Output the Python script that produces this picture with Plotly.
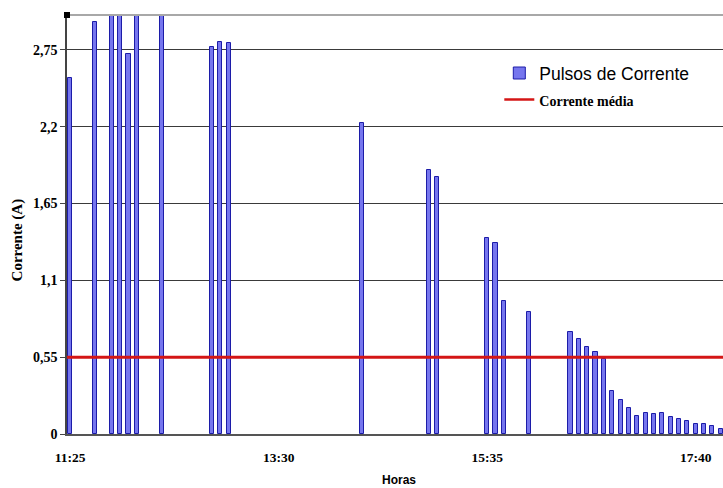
import plotly.graph_objects as go

# --- data ---
horas = ["11:25", "11:40", "11:50", "11:55", "12:00", "12:05", "12:20",
         "12:50", "12:55", "13:00", "14:20", "15:00", "15:05", "15:35",
         "15:40", "15:45", "16:00", "16:25", "16:30", "16:35", "16:40",
         "16:45", "16:50", "16:55", "17:00", "17:05", "17:10", "17:15",
         "17:20", "17:25", "17:30", "17:35", "17:40", "17:45", "17:50",
         "17:55"]
pulsos = [2.55, 2.95, 3.0, 3.0, 2.72, 3.0, 3.0,
          2.77, 2.81, 2.80, 2.23, 1.89, 1.84, 1.40,
          1.37, 0.95, 0.875, 0.73, 0.68, 0.62, 0.59,
          0.535, 0.305, 0.24, 0.185, 0.132, 0.148, 0.141,
          0.151, 0.122, 0.105, 0.095, 0.07, 0.072, 0.06,
          0.034]
corrente_media = 0.55
y_ticks = [0, 0.55, 1.1, 1.65, 2.2, 2.75]
y_ticklabels = ["0", "0,55", "1,1", "1,65", "2,2", "2,75"]
x_ticklabels = ["11:25", "13:30", "15:35", "17:40"]

day = "2000-01-01 "
xs = [day + h + ":00" for h in horas]
x_tickvals = [day + h + ":00" for h in x_ticklabels]

serif = "Liberation Serif, Times New Roman, serif"
sans = "Liberation Sans, Arial, sans-serif"

fig = go.Figure()
fig.add_trace(go.Bar(
    x=xs, y=pulsos,
    width=2.5 * 60 * 1000,
    marker=dict(color="#7676ee", line=dict(color="#1c1ca8", width=1)),
    name="<span style='font-family:Liberation Sans, Arial, sans-serif;font-size:17.5px'>Pulsos de Corrente</span>",
))
fig.add_hline(y=corrente_media, line=dict(color="#d41616", width=3), layer="above")
fig.add_trace(go.Scatter(
    x=[None], y=[None], mode="lines",
    line=dict(color="#d41616", width=2.5),
    name="<span style='font-family:Liberation Serif, Times New Roman, serif;font-size:14px;font-weight:bold'>Corrente média</span>",
))

# top border
fig.add_shape(type="line", xref="paper", yref="paper", x0=0, x1=1, y0=1, y1=1,
              line=dict(color="#a8a8a8", width=2))
# small handle at top-left
fig.add_shape(type="rect", xref="paper", yref="paper", xsizemode="pixel", ysizemode="pixel",
              xanchor=0, yanchor=1, x0=-3, x1=3, y0=-3, y1=3,
              fillcolor="black", line=dict(width=0))

fig.update_layout(
    width=723, height=488,
    margin=dict(l=67, r=0, t=15, b=54),
    plot_bgcolor="white", paper_bgcolor="white",
    showlegend=True,
    legend=dict(x=0.659, y=0.905, xanchor="left", yanchor="top",
                bgcolor="rgba(0,0,0,0)", font=dict(size=18, color="black"),
                traceorder="normal", tracegroupgap=0),
    bargap=0,
)
fig.update_xaxes(
    type="date",
    range=[day + "11:23:06", day + "17:56:24"],
    tickvals=x_tickvals, ticktext=x_ticklabels,
    tickfont=dict(family=serif, size=13.5, color="black", weight="bold"),
    showgrid=False, showline=True, linecolor="#555555", linewidth=2,
    ticks="", ticklabelstandoff=10, zeroline=False, automargin=False,
)
fig.update_yaxes(
    range=[0, 3.0],
    tickvals=y_ticks, ticktext=y_ticklabels,
    tickfont=dict(family=serif, size=14, color="black", weight="bold"),
    showgrid=True, gridcolor="#3a3a3a", gridwidth=1,
    showline=True, linecolor="#444444", linewidth=1.5,
    ticks="outside", ticklen=5, tickcolor="#444444", zeroline=False, automargin=False,
)
fig.add_annotation(text="Corrente (A)", xref="paper", yref="paper",
                   x=-0.0762, y=0.462, xanchor="center", yanchor="middle",
                   textangle=-90, showarrow=False,
                   font=dict(family=serif, size=15, color="black", weight="bold"))
fig.add_annotation(text="Horas", xref="paper", yref="paper",
                   x=0.506, y=-0.11, xanchor="center", yanchor="middle", showarrow=False,
                   font=dict(family=sans, size=12, color="black", weight="bold"))

fig.write_html("out.html", config={"displayModeBar": False},
               post_script="document.body.style.margin='0';")
